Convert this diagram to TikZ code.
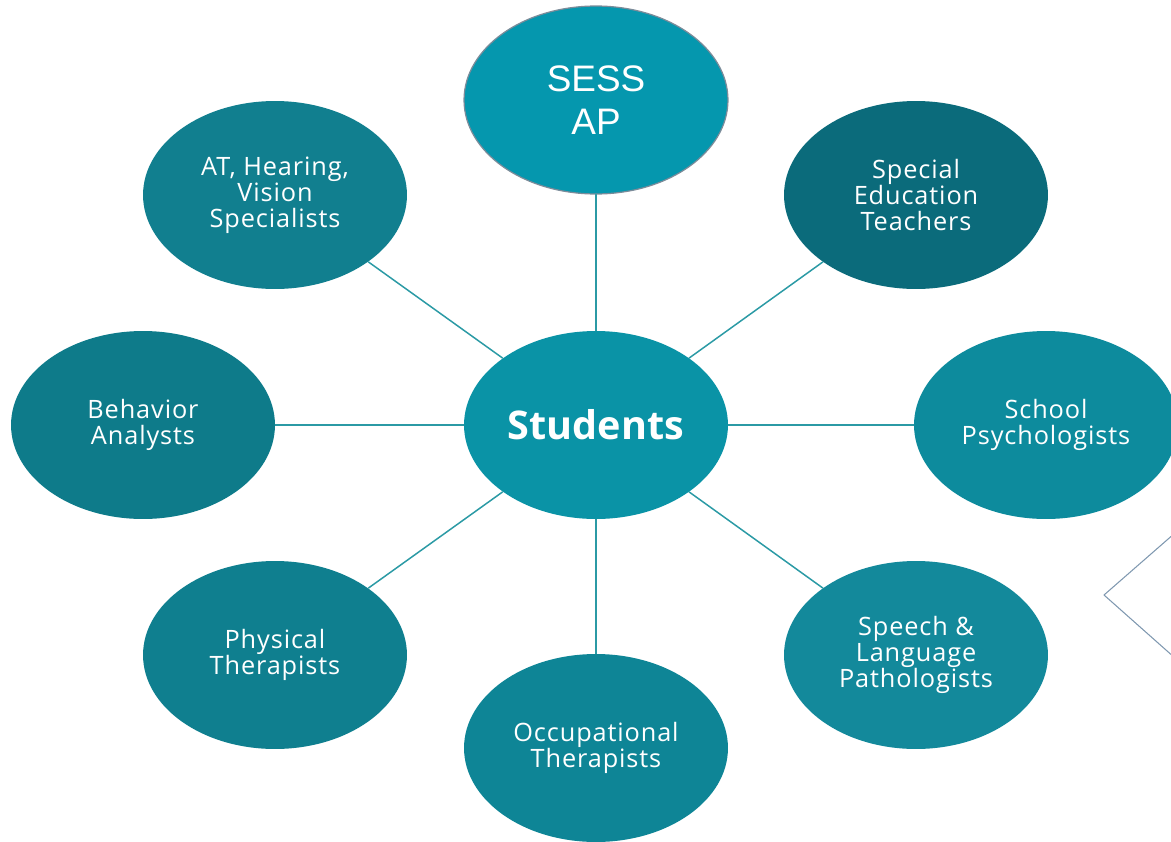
\documentclass[tikz,border=0pt]{standalone}
\usepackage{fontspec}
\setmainfont{Open Sans}
\newfontfamily\arialfont{Liberation Sans}
\newfontfamily\bubblefont[LetterSpace=3.5]{Open Sans}
\usetikzlibrary{shapes.geometric}
\definecolor{hubteal}{HTML}{0A93A6}
\definecolor{sessteal}{HTML}{0597AE}
\definecolor{linkteal}{HTML}{2B9AA5}
\definecolor{rimgray}{HTML}{7C8C9A}
\definecolor{arrowgray}{HTML}{7F98B0}
\begin{document}
\begin{tikzpicture}[x=0.02cm,y=-0.02cm,line join=round,line cap=round,
  bubble/.style={ellipse,minimum width=5.28cm,minimum height=3.76cm,inner sep=0pt,
    text=white,align=center,font=\bubblefont\fontsize{14.4}{14.8}\selectfont},
  link/.style={linkteal,line width=0.85pt}]
\def \xmax{1171};
\def \ymax{842};
\useasboundingbox (0,0) rectangle (\xmax,\ymax);
\clip (0,0) rectangle (\xmax,\ymax);
% hub and top bubble
\node[bubble,fill=hubteal,font=\fontsize{22.5}{24}\selectfont\bfseries] (students) at (596,425) {Students};
\node[bubble,fill=sessteal,draw=rimgray,line width=0.7pt,font=\arialfont\fontsize{21}{24.4}\selectfont] (sessap) at (596,100) {SESS\\AP};
% outer bubbles
\foreach \n/\x/\y/\c/\t in {seteach/916/195/0B6B7B/{Special\\Education\\Teachers},
  psych/1046/425/0D8B9D/{School\\Psychologists},
  speech/916/655/13899B/{Speech \&\\Language\\Pathologists},
  ot/596/748/0E8596/{Occupational\\Therapists},
  pt/275/655/0F7F8F/{Physical\\Therapists},
  behav/143/425/0E7B8A/{Behavior\\Analysts},
  athv/275/195/117F8F/{AT, Hearing,\\Vision\\Specialists}}{
  \definecolor{fill\n}{HTML}{\c}
  \node[bubble,fill=fill\n] (\n) at (\x,\y) {\t};
}
\foreach \n in {sessap,seteach,psych,speech,ot,pt,behav,athv}{\draw[link] (students) -- (\n);}
% partial arrow shape at right
\draw[arrowgray,line width=0.6pt] (1175,533) -- (1104,595) -- (1175,658);
\end{tikzpicture}
\end{document}
